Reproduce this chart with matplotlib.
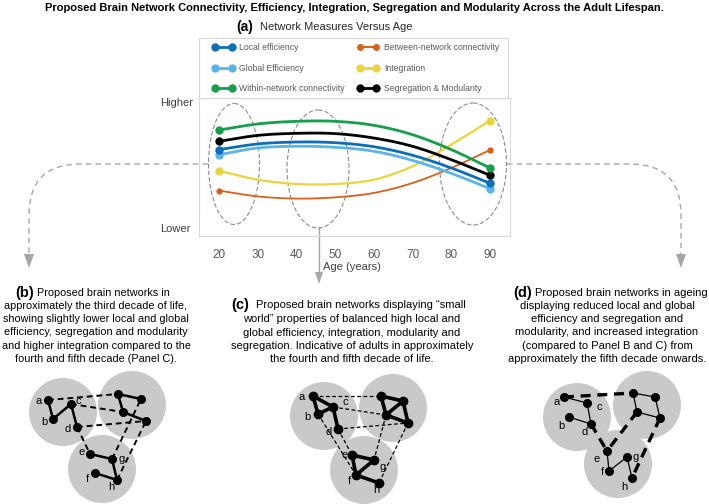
import numpy as np
import matplotlib
matplotlib.use("Agg")
from matplotlib import pyplot as plt
from matplotlib.lines import Line2D
from matplotlib.patches import Ellipse, Circle, Polygon, PathPatch, Rectangle
from matplotlib.path import Path

plt.rcParams['font.family'] = ['Liberation Sans', 'DejaVu Sans']

#####Data
AGES = [20, 30, 40, 50, 60, 70, 80, 90]
local_eff = [62.6, 66.7, 68.1, 67.6, 64.7, 58.5, 49.3, 38.2]
global_eff = [58.9, 63.8, 65.0, 64.3, 61.4, 54.8, 45.4, 34.3]
within_conn = [76.8, 81.2, 83.1, 83.1, 80.2, 73.4, 62.6, 49.3]
between_conn = [32.9, 28.7, 27.1, 28.0, 31.2, 38.4, 49.3, 62.3]
integration = [47.3, 40.8, 37.7, 37.7, 40.8, 50.5, 66.2, 83.6]
segregation = [68.6, 72.9, 74.4, 74.2, 71.0, 65.0, 55.3, 44.0]

SERIES = ["Local efficiency", "Global Efficiency", "Within-network connectivity",
          "Between-network connectivity", "Integration", "Segregation & Modularity"]
COLORS = ["#0a6fb8", "#5ab4e8", "#14a04a", "#d8601a", "#ead43c", "#000000"]
XTICKS = [20, 30, 40, 50, 60, 70, 80, 90]

# network sketches (pixel positions in the figure)
B_NODES = {'a': (48, 400), 'b': (53, 419), 'c': (71, 404), 'd': (77, 427),
           'p': (118, 394), 'q': (141, 399), 'r': (123, 412), 's': (146, 421),
           'e': (90, 454), 'g': (112, 459), 'f': (95, 473), 'h': (117, 480)}
B_SOLID = ['ab', 'bc', 'cd', 'pq', 'pr', 'rs', 'eg', 'gh', 'fh']
B_DASH = ['ap', 'cr', 'ds', 'de', 'gq', 'hs']
B_CIRC = [(63, 412), (132, 405), (102, 469)]
B_LAB = {'a': (39, 401), 'b': (44, 422), 'c': (78, 401), 'd': (68, 429),
         'e': (82, 452), 'g': (122, 459), 'f': (87, 479), 'h': (111, 487)}

C_NODES = {'a': (313, 396), 'b': (318, 414), 'c': (333, 407), 'd': (338, 429),
           'p': (381, 396), 'q': (403, 401), 'r': (386, 415), 's': (408, 423),
           'e': (352, 455), 'g': (374, 460), 'f': (356, 475), 'h': (379, 483)}
C_SOLID = ['ab', 'ac', 'bc', 'cd', 'pq', 'pr', 'qr', 'qs', 'rs', 'eg', 'ef', 'fg', 'fh']
C_DASH = ['ap', 'cr', 'ds', 'bf', 'de', 'rg', 'sh']
C_CIRC = [(324, 416), (393, 408), (364, 470)]
C_LAB = {'a': (302, 397), 'b': (307, 417), 'c': (345, 402), 'd': (329, 432),
         'e': (345, 455), 'g': (383, 467), 'f': (349, 481), 'h': (376, 490)}

D_NODES = {'a': (564, 397), 'c': (587, 403), 'b': (569, 417), 'd': (591, 424),
           'p': (633, 393), 'q': (655, 397), 'r': (637, 412), 's': (660, 418),
           'e': (607, 451), 'g': (627, 457), 'f': (609, 471), 'h': (632, 478)}
D_SOLID = ['ac', 'cd', 'bd', 'pq', 'pr', 'rs', 'qs', 'ef', 'fg', 'gh']
D_DASH = ['ap', 'de', 're', 'sh']
D_CIRC = [(577, 417), (647, 405), (618, 464)]
D_LAB = {'a': (557, 402), 'b': (561, 426), 'c': (599, 407), 'd': (585, 432),
         'e': (597, 459), 'g': (636, 457), 'f': (602, 472), 'h': (624, 487)}

TXT_B = ["approximately the third decade of life,",
         "showing slightly lower local and global",
         "efficiency, segregation and modularity",
         "and higher integration compared to the",
         "fourth and fifth decade (Panel C)."]
TXT_C = ["world\u201d properties of balanced high local and",
         "global efficiency, integration, modularity and",
         "segregation. Indicative of adults in approximately",
         "the fourth and fifth decade of life."]
TXT_D = ["displaying reduced local and global",
         "efficiency and segregation and",
         "modularity, and increased integration",
         "(compared to Panel B and C) from",
         "approximately the fifth decade onwards."]


def smooth(x, y, n=25):
    # cubic hermite through the read points (like excel smoothed lines)
    x = np.asarray(x, float)
    y = np.asarray(y, float)
    m = np.gradient(y, x)
    xs, ys = [], []
    for i in range(len(x) - 1):
        h = x[i + 1] - x[i]
        t = np.linspace(0, 1, n, endpoint=(i == len(x) - 2))
        h00 = 2*t**3 - 3*t**2 + 1
        h10 = t**3 - 2*t**2 + t
        h01 = -2*t**3 + 3*t**2
        h11 = t**3 - t**2
        ys.append(h00*y[i] + h10*h*m[i] + h01*y[i + 1] + h11*h*m[i + 1])
        xs.append(x[i] + t*h)
    return np.concatenate(xs), np.concatenate(ys)


def network(ov, nodes, solid, dash, circ, lab, lw_s, lw_d, ms):
    for cx, cy in circ:
        ov.add_patch(Circle((cx, cy), 34, color="#c9c9c9", lw=0, zorder=1))
    for e in solid:
        (x0, y0), (x1, y1) = nodes[e[0]], nodes[e[1]]
        ov.plot([x0, x1], [y0, y1], color='k', lw=lw_s, zorder=2, solid_capstyle='round')
    for e in dash:
        (x0, y0), (x1, y1) = nodes[e[0]], nodes[e[1]]
        ov.plot([x0, x1], [y0, y1], color='k', lw=lw_d, ls=(0, (3, 2)), zorder=2)
    xy = np.array(list(nodes.values()))
    ov.plot(xy[:, 0], xy[:, 1], 'o', color='k', ms=ms, zorder=3, lw=0)
    for k, (tx, ty) in lab.items():
        ov.text(tx, ty, k, ha='center', va='center', fontsize=8, zorder=4)


fig = plt.figure(figsize=(7.09, 5.04), dpi=100)

# overlay in pixel coordinates for the decorations
ov = fig.add_axes([0, 0, 1, 1], zorder=0)
ov.set_xlim(0, 709)
ov.set_ylim(504, 0)
ov.axis('off')

ax = fig.add_axes([199/709, 1 - 236/504, 311/709, 138/504], zorder=1)
ax.set_facecolor('none')

data = [local_eff, global_eff, within_conn, between_conn, integration, segregation]
lws = [2.0, 2.0, 2.0, 1.3, 1.6, 2.0]
mss = [5, 5, 5, 3.5, 5, 5]
order = [3, 4, 1, 0, 5, 2]
for i in order:
    xs, ys = smooth(AGES, data[i])
    ax.plot(xs, ys, color=COLORS[i], lw=lws[i], zorder=3)
    ax.plot([AGES[0], AGES[-1]], [data[i][0], data[i][-1]], 'o', color=COLORS[i],
            ms=mss[i], zorder=4)

ax.set_xlim(14.83, 95.17)
ax.set_ylim(0, 100)
ax.set_xticks(XTICKS)
ax.set_yticks([])
ax.tick_params(axis='x', length=0, pad=9, labelsize=8.5, labelcolor='#595959')
for sp in ax.spines.values():
    sp.set_color('#d9d9d9')
    sp.set_linewidth(0.8)

# legend box (frame drawn separately so the entries sit like the original)
ov.add_patch(Rectangle((199, 38), 309, 60, fill=False, ec='#d9d9d9', lw=0.8))
handles = [Line2D([], [], color=COLORS[i], lw=2 if i != 3 else 1.5, marker='o', ms=5 if i != 3 else 4)
           for i in range(6)]
leg = fig.legend(handles, SERIES, ncol=2, numpoints=2, loc='lower left',
                 bbox_to_anchor=(208/709, 1 - 98/504, 296/709, 59/504), mode='expand',
                 borderaxespad=0, fontsize=6.2, handlelength=2.5, handletextpad=0.6,
                 labelspacing=1.35, borderpad=0.55, frameon=False)
for t in leg.get_texts():
    t.set_color('#595959')

# titles
ov.text(354, 8, "Proposed Brain Network Connectivity, Efficiency, Integration, Segregation "
        "and Modularity Across the Adult Lifespan.", ha='center', va='center',
        fontsize=8, fontweight='bold')
ov.text(253, 27, "(a)", ha='right', va='center', fontsize=10, fontweight='bold')
ov.text(260, 27, "Network Measures Versus Age", ha='left', va='center', fontsize=8,
        color='#262626')
ov.text(160, 103, "Higher", ha='left', va='center', fontsize=8, color='#404040')
ov.text(160, 229, "Lower", ha='left', va='center', fontsize=8, color='#404040')
ov.text(352, 267, "Age (years)", ha='center', va='center', fontsize=8, color='#404040')

# dashed ellipses
for cx, cy, w, h in [(234, 164, 51, 121), (318, 169, 62, 118), (473, 164, 67, 122)]:
    ov.add_patch(Ellipse((cx, cy), w, h, fill=False, ec='#8c8c8c', lw=0.8,
                         ls=(0, (4, 2)), zorder=2))

# arrows
acol = '#a6a6a6'
lp = Path([(208, 164), (80, 164), (29, 164), (29, 215), (29, 256)],
          [Path.MOVETO, Path.LINETO, Path.CURVE3, Path.CURVE3, Path.LINETO])
rp = Path([(507, 164), (630, 164), (681, 164), (681, 215), (681, 256)],
          [Path.MOVETO, Path.LINETO, Path.CURVE3, Path.CURVE3, Path.LINETO])
for p in [lp, rp]:
    ov.add_patch(PathPatch(p, fill=False, ec=acol, lw=1.0, ls=(0, (4, 3))))
ov.add_patch(Polygon([(24, 254), (34, 254), (29, 268)], closed=True, color=acol, lw=0))
ov.add_patch(Polygon([(676, 254), (686, 254), (681, 268)], closed=True, color=acol, lw=0))
ov.plot([319, 319], [227, 273], color=acol, lw=1.0)
ov.add_patch(Polygon([(315, 272), (323, 272), (319, 284)], closed=True, color=acol, lw=0))

# panel texts
ov.text(34, 293, "(b)", ha='right', va='center', fontsize=10.5, fontweight='bold')
ov.text(37, 293, "Proposed brain networks in", ha='left', va='center', fontsize=7.8)
for i, s in enumerate(TXT_B):
    ov.text(96, 306 + 13.2*i, s, ha='center', va='center', fontsize=7.8)

ov.text(249, 305.5, "(c)", ha='right', va='center', fontsize=10.5, fontweight='bold')
ov.text(256, 305.5, "Proposed brain networks displaying \u201csmall", ha='left',
        va='center', fontsize=8)
for i, s in enumerate(TXT_C):
    ov.text(352, 319 + 13.5*i, s, ha='center', va='center', fontsize=8)

ov.text(532, 293, "(d)", ha='right', va='center', fontsize=10.5, fontweight='bold')
ov.text(535, 293, "Proposed brain networks in ageing", ha='left', va='center', fontsize=8)
for i, s in enumerate(TXT_D):
    ov.text(607, 306 + 13.2*i, s, ha='center', va='center', fontsize=8)

# networks
network(ov, B_NODES, B_SOLID, B_DASH, B_CIRC, B_LAB, 1.8, 1.4, 5.5)
network(ov, C_NODES, C_SOLID, C_DASH, C_CIRC, C_LAB, 2.6, 0.9, 6)
network(ov, D_NODES, D_SOLID, D_DASH, D_CIRC, D_LAB, 0.9, 2.4, 5.5)

fig.savefig("out.png", dpi=100)
